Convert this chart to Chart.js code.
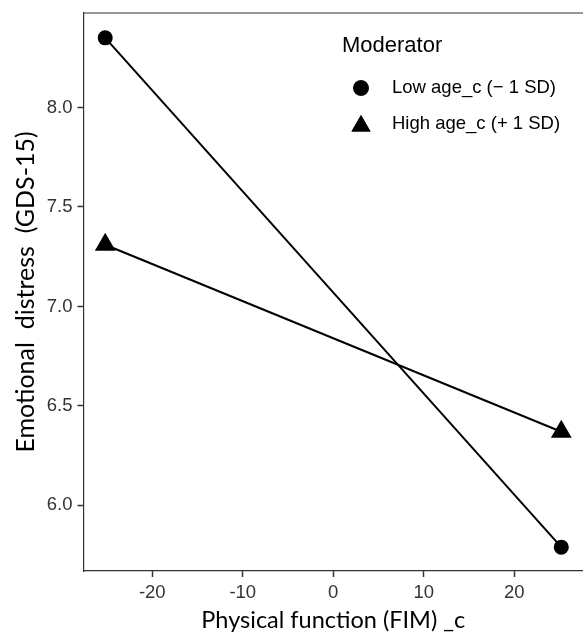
<!DOCTYPE html>
<html>
<head>
<meta charset="utf-8">
<script src="https://cdn.jsdelivr.net/npm/chart.js@4/dist/chart.umd.min.js"></script>
<style>
  html, body { margin: 0; padding: 0; background: #fff; }
  canvas { display: block; }
</style>
</head>
<body>
<canvas id="chart" width="583" height="633"></canvas>
<script>
// values
const fimLevels = [-25.2, 25.2];
const lowAge = [8.35, 5.79];
const highAge = [7.31, 6.37];
const seriesNames = ['Low age_c (\u2212 1 SD)', 'High age_c (+ 1 SD)'];
const xTicks = [-20, -10, 0, 10, 20];
const yTicks = [6.0, 6.5, 7.0, 7.5, 8.0];

const axisColor = '#333333';
const tickFont = { family: 'Liberation Sans', size: 18.5 };

function points(ys) {
  return fimLevels.map((x, i) => ({ x: x, y: ys[i] }));
}

// top frame line + legend inside the plot
const decorations = {
  id: 'decorations',
  afterDraw(chart) {
    const ctx = chart.ctx;
    const area = chart.chartArea;
    ctx.save();
    ctx.strokeStyle = axisColor;
    ctx.lineWidth = 1.2;
    ctx.beginPath();
    ctx.moveTo(area.left, area.top);
    ctx.lineTo(chart.width, area.top);
    ctx.stroke();

    ctx.fillStyle = '#000';
    ctx.textBaseline = 'middle';
    ctx.font = '22px "Liberation Sans"';
    ctx.fillText('Moderator', 342, 46);

    ctx.font = '18.5px "Liberation Sans"';
    chart.data.datasets.forEach((ds, i) => {
      const y = 88 + i * 36;
      ctx.fillStyle = '#000';
      ctx.fillText(ds.label, 392, y);
      Chart.helpers.drawPoint(ctx, {
        pointStyle: ds.pointStyle,
        radius: ds.pointStyle === 'triangle' ? 11 : 7.8,
        rotation: 0,
        borderWidth: 0
      }, 361, y + (ds.pointStyle === 'triangle' ? 2 : 0));
      ctx.fill();
    });
    ctx.restore();
  }
};

new Chart(document.getElementById('chart'), {
  type: 'line',
  data: {
    datasets: [
      {
        label: seriesNames[0],
        data: points(lowAge),
        borderColor: '#000',
        backgroundColor: '#000',
        borderWidth: 2,
        pointStyle: 'circle',
        pointRadius: 7.5,
        pointBorderWidth: 0
      },
      {
        label: seriesNames[1],
        data: points(highAge),
        borderColor: '#000',
        backgroundColor: '#000',
        borderWidth: 2,
        pointStyle: 'triangle',
        pointRadius: 12,
        pointBorderWidth: 0
      }
    ]
  },
  options: {
    responsive: false,
    animation: false,
    layout: { autoPadding: false, padding: { top: 13, right: 0, bottom: 0, left: 0 } },
    plugins: {
      legend: { display: false },
      tooltip: { enabled: false }
    },
    scales: {
      x: {
        type: 'linear',
        min: -27.6,
        max: 27.6,
        afterBuildTicks: s => { s.ticks = xTicks.map(v => ({ value: v })); },
        afterFit: s => { s.height = 62; s.paddingLeft = 0; s.paddingRight = 0; },
        grid: { drawOnChartArea: false, drawTicks: true, tickLength: 6, tickColor: axisColor, tickWidth: 1.5 },
        border: { color: axisColor, width: 1.2 },
        ticks: { color: '#333', font: tickFont, padding: 5, maxRotation: 0 },
        title: { display: true, text: 'Physical function (FIM) _c', color: '#000', font: { family: 'Lato', size: 23.5 }, padding: { top: 0, bottom: -2 } }
      },
      y: {
        min: 5.67,
        max: 8.475,
        afterBuildTicks: s => { s.ticks = yTicks.map(v => ({ value: v })); },
        afterFit: s => { s.width = 83.5; s.paddingTop = 0; s.paddingBottom = 0; },
        grid: { drawOnChartArea: false, drawTicks: true, tickLength: 6, tickColor: axisColor, tickWidth: 1.5 },
        border: { color: axisColor, width: 1.2 },
        ticks: { color: '#333', font: tickFont, padding: 5, callback: v => v.toFixed(1) },
        title: { display: true, text: 'Emotional  distress  (GDS-15)', color: '#000', font: { family: 'Lato', size: 25 }, padding: { top: 11, bottom: 0 } }
      }
    }
  },
  plugins: [decorations]
});
</script>
</body>
</html>
